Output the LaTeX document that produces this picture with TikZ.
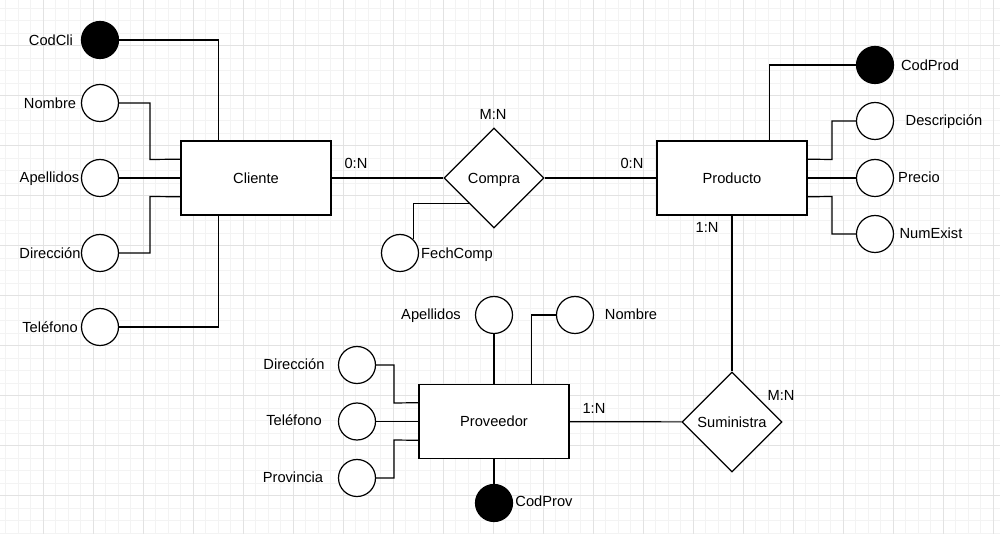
\documentclass[tikz,border=0pt]{standalone}
\usepackage{fontspec}
\setmainfont{Liberation Sans}
\usetikzlibrary{shapes.geometric,calc}
\definecolor{gridminor}{HTML}{F3F3F3}
\definecolor{gridmajor}{HTML}{E2E2E2}

\begin{document}
\begin{tikzpicture}[x=0.75pt,y=-0.75pt,line width=0.9pt,
    font=\fontsize{11}{13}\selectfont,text height=8.5pt,text depth=0.7pt]

      \useasboundingbox (0,0) rectangle (1000,534);
      \fill[white] (0,0) rectangle (1000,534);

      % grid
      \begin{scope}[line width=0.75pt]
        \foreach \x in {5.5,18,...,1000} \draw[gridminor] (\x,0) -- (\x,534);
        \foreach \y in {8.5,21,...,534} \draw[gridminor] (0,\y) -- (1000,\y);
        \foreach \x in {43,93,...,993} \draw[gridmajor] (\x,0) -- (\x,534);
        \foreach \y in {46,96,...,496} \draw[gridmajor] (0,\y) -- (1000,\y);
      \end{scope}

      % entities
      \begin{scope}[every node/.style={rectangle,draw,fill=white,minimum width=112.5pt,minimum height=55.5pt}]
        \node (cliente)   at (256,178)   {Cliente};
        \node (producto)  at (732,178)   {Producto};
        \node (proveedor) at (494,421.5) {Proveedor};
      \end{scope}

      % relationships
      \begin{scope}[every node/.style={diamond,draw,fill=white,minimum width=75pt,minimum height=75pt,inner sep=0pt}]
        \node (compra)     at (494,178) {Compra};
        \node (suministra) at (732,422) {Suministra};
      \end{scope}

      % attributes
      \begin{scope}[every node/.style={circle,draw,fill=white,minimum size=27.75pt,inner sep=0pt}]
        \node (codcli)      [fill=black] at (100,40) {};
        \node (nombre1)     at (100,103) {};
        \node (apellidos1)  at (100,178) {};
        \node (direccion1)  at (100,253) {};
        \node (telefono1)   at (100,327) {};
        \node (fechcomp)    at (400,253) {};
        \node (codprod)     [fill=black] at (875,65) {};
        \node (descripcion) at (875,121) {};
        \node (precio)      at (875,178) {};
        \node (numexist)    at (875,234) {};
        \node (apellidos2)  at (494,315) {};
        \node (nombre2)     at (575,315) {};
        \node (direccion2)  at (357,365) {};
        \node (telefono2)   at (357,421.5) {};
        \node (provincia)   at (357,478) {};
        \node (codprov)     [fill=black] at (494,503) {};
      \end{scope}

      % attribute names
      \begin{scope}[every node/.style={inner sep=0pt}]
        \node (codcli-t)      at (51,40)   {CodCli};
        \node (nombre1-t)     at (50,103)  {Nombre};
        \node (apellidos1-t)  at (49.5,177) {Apellidos};
        \node (direccion1-t)  at (50,253)  {Dirección};
        \node (telefono1-t)   at (50,327)  {Teléfono};
        \node (fechcomp-t)    at (457,253) {FechComp};
        \node (codprod-t)     at (930,65)  {CodProd};
        \node (descripcion-t) at (944,120) {Descripción};
        \node (precio-t)      at (919,177) {Precio};
        \node (numexist-t)    at (931,233) {NumExist};
        \node (apellidos2-t)  at (431,314) {Apellidos};
        \node (nombre2-t)     at (631,314) {Nombre};
        \node (direccion2-t)  at (294,364) {Dirección};
        \node (telefono2-t)   at (294,420) {Teléfono};
        \node (provincia-t)   at (293,477) {Provincia};
        \node (codprov-t)     at (544,501) {CodProv};
      \end{scope}

      % cardinalities
      \begin{scope}[every node/.style={inner sep=0pt}]
        \node (card1) at (356,163) {0:N};
        \node (card2) at (632,163) {0:N};
        \node (card3) at (493,114) {M:N};
        \node (card4) at (707,227) {1:N};
        \node (card5) at (594,408) {1:N};
        \node (card6) at (781,395) {M:N};
      \end{scope}

      % connectors
      \draw (codcli) -| ($(cliente.north west)!.25!(cliente.north east)$);
      \draw (nombre1) -| (150,159.5) -- ($(cliente.north west)!.25!(cliente.south west)$);
      \draw (apellidos1) -- (cliente);
      \draw (direccion1) -| (150,196.5) -- ($(cliente.north west)!.75!(cliente.south west)$);
      \draw (telefono1) -| ($(cliente.south west)!.25!(cliente.south east)$);
      \draw (cliente) -- (compra);
      \draw (compra) -- (producto);
      \draw (fechcomp.45) |- (compra.south west);
      \draw (codprod) -| ($(producto.north west)!.75!(producto.north east)$);
      \draw (descripcion) -| (832,159.5) -- ($(producto.north east)!.25!(producto.south east)$);
      \draw (precio) -- (producto);
      \draw (numexist) -| (832,196.5) -- ($(producto.north east)!.75!(producto.south east)$);
      \draw (producto) -- (suministra);
      \draw (proveedor) -- (suministra);
      \draw (apellidos2) -- (proveedor);
      \draw (nombre2) -| ($(proveedor.north west)!.75!(proveedor.north east)$);
      \draw (direccion2) -| (394,403) -- ($(proveedor.north west)!.25!(proveedor.south west)$);
      \draw (telefono2) -- (proveedor);
      \draw (provincia) -| (394,440) -- ($(proveedor.north west)!.75!(proveedor.south west)$);
      \draw (proveedor) -- (codprov);

    \end{tikzpicture}
\end{document}
